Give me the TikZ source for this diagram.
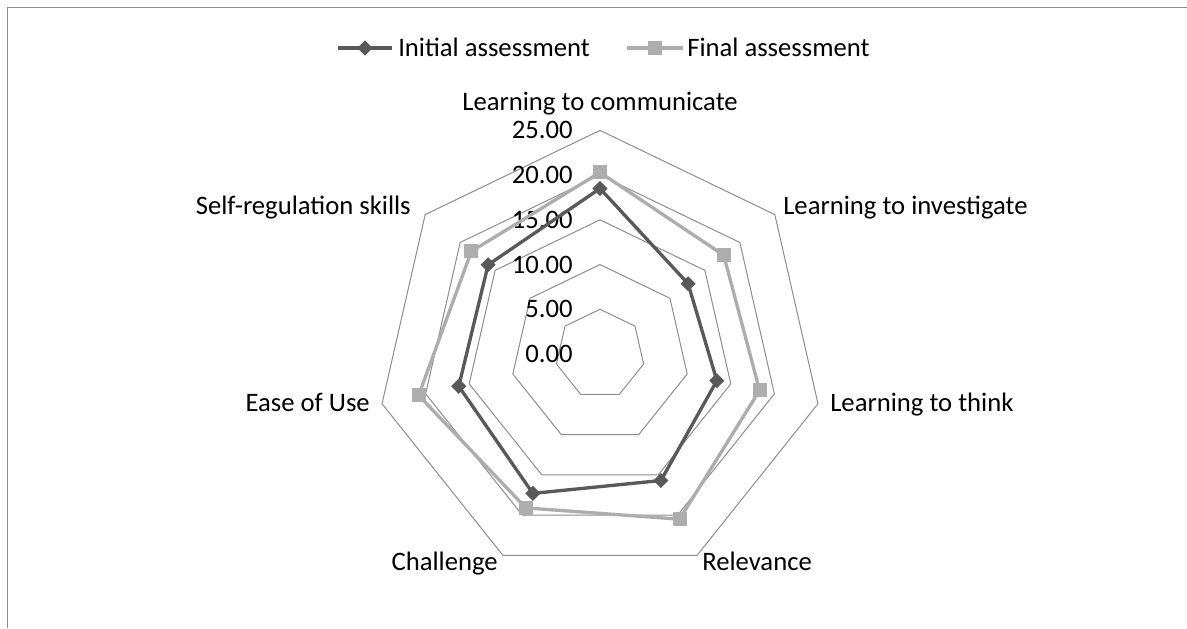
\documentclass[tikz,border=0pt]{standalone}
\usepackage{fontspec}
\setmainfont{Carlito}
\usetikzlibrary{shapes.geometric}
\definecolor{initc}{HTML}{595959}
\definecolor{finc}{HTML}{ADADAD}
\definecolor{gridc}{HTML}{8C8C8C}
\definecolor{framec}{HTML}{8C8C8C}
\begin{document}
\begin{tikzpicture}[x=0.75pt,y=0.75pt,
  gridline/.style={draw=gridc,line width=0.75pt},
  initline/.style={draw=initc,line width=2.5pt,line join=round},
  finline/.style={draw=finc,line width=2.5pt,line join=round},
  dmark/.style={diamond,fill=initc,inner sep=0pt,minimum size=11.5pt},
  smark/.style={rectangle,fill=finc,inner sep=0pt,minimum size=10.5pt},
  lab/.style={font=\fontsize{20}{24}\selectfont,inner sep=0pt,text=black},
]
\useasboundingbox (0,0) rectangle (1187,628);
% frame (only top and left borders visible)
\draw[framec,line width=1pt] (1187,620.5) -- (7.5,620.5) -- (7.5,0);

\begin{scope}[shift={(600,274)}]
  % grid rings
  \foreach \k in {1,...,5}{
    \pgfmathsetmacro\r{44.72*\k}
    \draw[gridline] (90:\r) -- ({90-360/7}:\r) -- ({90-2*360/7}:\r) -- ({90-3*360/7}:\r)
      -- ({90-4*360/7}:\r) -- ({90-5*360/7}:\r) -- ({90-6*360/7}:\r) -- cycle;
  }
  % data points
  \foreach \v [count=\i from 0] in {18.5,12.6,13.4,15.7,17.3,16.2,16.0}{
    \coordinate (i\i) at ({90-\i*360/7}:{8.944*\v});
  }
  \foreach \v [count=\i from 0] in {20.3,17.7,18.3,20.5,19.1,20.8,18.4}{
    \coordinate (f\i) at ({90-\i*360/7}:{8.944*\v});
  }
\end{scope}

% value axis labels
\foreach \t [count=\k from 0] in {0.00,5.00,10.00,15.00,20.00,25.00}{
  \node[lab,anchor=east] (v\k) at (573,{274+44.72*\k}) {\t};
}

% series
\draw[initline] (i0) -- (i1) -- (i2) -- (i3) -- (i4) -- (i5) -- (i6) -- cycle;
\foreach \i in {0,...,6}{ \node[dmark] (im\i) at (i\i) {}; }
\draw[finline] (f0) -- (f1) -- (f2) -- (f3) -- (f4) -- (f5) -- (f6) -- cycle;
\foreach \i in {0,...,6}{ \node[smark] (fm\i) at (f\i) {}; }

% category labels
\node[lab,anchor=base] (c0) at (600,517) {Learning to communicate};
\node[lab,anchor=base west] (c1) at (783,413) {Learning to investigate};
\node[lab,anchor=base west] (c2) at (830,216) {Learning to think};
\node[lab,anchor=base west] (c3) at (702,58) {Relevance};
\node[lab,anchor=base east] (c4) at (498,58) {Challenge};
\node[lab,anchor=base east] (c5) at (370,216) {Ease of Use};
\node[lab,anchor=base east] (c6) at (411,413) {Self-regulation skills};

% legend
\coordinate (la) at (338,580);
\coordinate (lb) at (392,580);
\draw[initline] (la) -- (lb);
\node[dmark] (lm1) at (365,580) {};
\node[lab,anchor=base west] (lt1) at (398,571) {Initial assessment};
\coordinate (lc) at (627,580);
\coordinate (ld) at (683,580);
\draw[finline] (lc) -- (ld);
\node[smark] (lm2) at (655,580) {};
\node[lab,anchor=base west] (lt2) at (687,571) {Final assessment};
\end{tikzpicture}
\end{document}
